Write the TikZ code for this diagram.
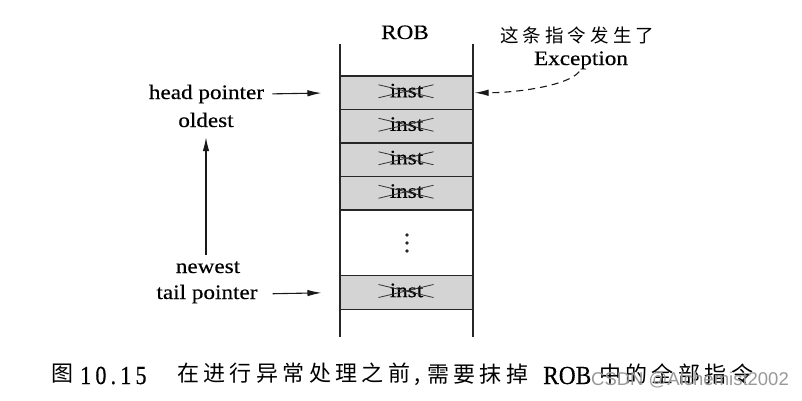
\documentclass[tikz,border=0pt]{standalone}
\usepackage{fontspec}
\setmainfont{Liberation Serif}[FakeStretch=1.13, FakeBold=0.35]
\newfontfamily\capserif{Liberation Serif}[FakeStretch=0.85, FakeBold=0.4, LetterSpace=16]
\newfontfamily\capserifb{Liberation Serif}[FakeStretch=0.9, FakeBold=0.4]
\newfontfamily\cjk{Noto Sans CJK SC}[LetterSpace=22]
\newfontfamily\cjkcap{Noto Sans CJK SC}[LetterSpace=20]
\newfontfamily\wmfont{Liberation Sans}
\usetikzlibrary{arrows.meta}
\tikzset{
  cell/.style={draw=black!85, line width=1.1pt, fill=black!17, minimum width=133pt,
    minimum height=33.5pt, inner sep=0pt, text height=9.2pt, text depth=0pt,
    font=\fontsize{20.5}{24}\selectfont},
  lbl/.style={inner sep=0pt, text height=14pt, text depth=4pt, anchor=base,
    font=\fontsize{20.5}{24}\selectfont},
  zh/.style={inner sep=0pt, anchor=west},
  capzh/.style={zh, font=\cjkcap\fontsize{22}{25}\selectfont},
  wall/.style={draw=black!85, line width=1.1pt},
  arr/.style={draw=black!90, line width=1.1pt, -{Latex[length=14pt,width=6.5pt]}},
  darr/.style={draw=black!90, line width=1.1pt, dash pattern=on 7pt off 5pt,
    -{Latex[length=14pt,width=6.5pt]}},
  xline/.style={draw=black!80, line width=0.8pt}
}
\begin{document}
\begin{tikzpicture}[x=1pt,y=-1pt]
\useasboundingbox[fill=white] (0,0) rectangle (802,400);
% ROB walls
\coordinate (wlt) at (340,44);
\coordinate (wlb) at (340,337);
\coordinate (wrt) at (473,44);
\coordinate (wrb) at (473,337);
\draw[wall] (wlt) -- (wlb);
\draw[wall] (wrt) -- (wrb);
% cells
\node[cell] (r1) at (406.5,92.75) {inst};
\node[cell] (r2) at (406.5,126.25) {inst};
\node[cell] (r3) at (406.5,159.75) {inst};
\node[cell] (r4) at (406.5,193.25) {inst};
\node[cell] (r5) at (406.5,292.5) {inst};
\foreach \c in {r1,r2,r3,r4,r5}{
  \draw[xline] ([shift={(-28,-8)}]\c.center) -- ([shift={(27,5)}]\c.center);
  \draw[xline] ([shift={(-28,5)}]\c.center) -- ([shift={(27,-8)}]\c.center);
}
% dots
\foreach \yy in {235,243,251}{
  \fill[black!85] (407,\yy) circle (1.9pt);
}
% labels
\node[lbl] (rob) at (405,39) {ROB};
\node[lbl] (hp) at (206.5,99) {head pointer};
\node[lbl] (old) at (206,127) {oldest};
\node[lbl] (new) at (208,273) {newest};
\node[lbl] (tp) at (207,299) {tail pointer};
\node[zh, font=\cjk\fontsize{18.5}{20}\selectfont] (zhl) at (500,35) {这条指令发生了};
\node[lbl] (exc) at (581,65) {Exception};
% arrows
\draw[arr, shorten <=8pt, shorten >=18pt] (hp.east) -- (r1.west);
\draw[arr, shorten <=15pt, shorten >=18pt] (tp.east) -- (r5.west);
\draw[arr, shorten <=4pt, shorten >=6pt] (new.north -| old.south) -- (old.south);
\draw[darr, shorten <=3pt, shorten >=1pt] (exc.south) .. controls +(-12,16) and +(45,0) .. (r1.east);
% caption
\node[capzh] (c0) at (51,374) {图};
\node[lbl, anchor=base west, font=\capserif\fontsize{26}{28}\selectfont] (c1) at (80,384) {10.15};
\node[capzh] (c2) at (177,374) {在进行异常处理之前,};
\node[capzh] (c3) at (427,374) {需要抹掉};
\node[lbl, anchor=base west, font=\capserifb\fontsize{26}{28}\selectfont] (c4) at (543,384) {ROB};
\node[capzh] (c5) at (599,374) {中的全部指令};
% watermark
\node[inner sep=0pt, text=black!40, font=\wmfont\fontsize{18.5}{20}\selectfont] (wm) at (690,380) {CSDN @Alchemist2002};
\end{tikzpicture}
\end{document}
